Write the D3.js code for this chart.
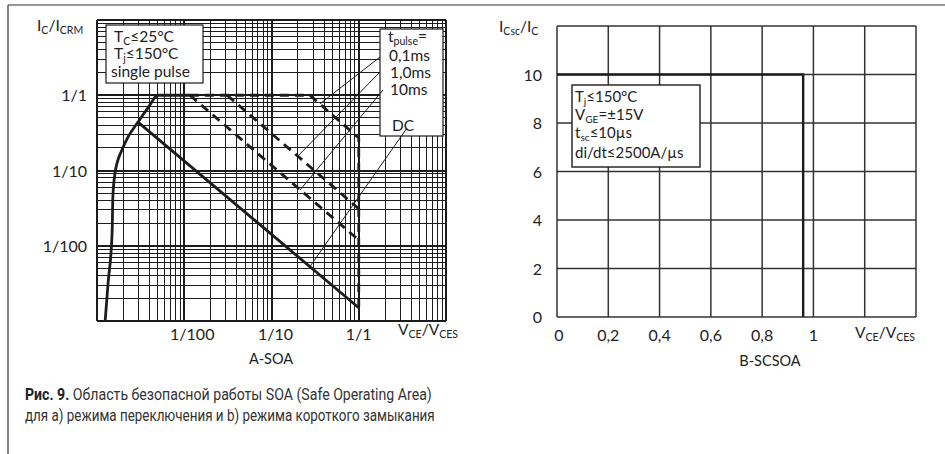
<!DOCTYPE html>
<html lang="ru">
<head>
<meta charset="UTF-8">
<title>SOA / SCSOA</title>
<script src="https://cdn.jsdelivr.net/npm/d3@7"></script>
<style>
  html, body { margin: 0; padding: 0; background: #fff; }
  svg { display: block; }
  .lbl { font-family: Lato, 'Open Sans', sans-serif; fill: #222; }
  .cap { font-family: Roboto, 'Noto Sans', sans-serif; fill: #333; }
  .grid { shape-rendering: crispEdges; }
</style>
</head>
<body>
<svg id="chart" width="945" height="454"></svg>
<script>
// ---- values ----
// A-SOA: log/log, relative units
const soaXTicks = [0.01, 0.1, 1];
const soaXTickLabels = ["1/100", "1/10", "1/1"];
const soaYTicks = [1, 0.1, 0.01];
const soaYTickLabels = ["1/1", "1/10", "1/100"];
const envelope = [[0.00124, 0.001], [0.00134, 0.0032], [0.00149, 0.0148], [0.00152, 0.0445],
  [0.00161, 0.093], [0.0017, 0.126], [0.00193, 0.187], [0.00227, 0.279], [0.00295, 0.44],
  [0.00384, 0.68], [0.005, 1], [0.0116, 1]];
const dcLine = [[0.00295, 0.44], [1, 0.0015]];
const pulse10ms = [[0.0116, 1], [1, 0.0119]];
const pulse1ms = [[0.031, 1], [1, 0.031]];
const pulse01ms = [[0.0116, 1], [0.276, 1], [1, 0.27], [1, 0.0015]];
const pulseLabels = ["0,1ms", "1,0ms", "10ms", "DC"];
const pulseLeaderEnds = [[0.36, 0.77], [0.2, 0.155], [0.212, 0.055], [0.276, 0.0053]];

// B-SCSOA: linear
const scXTicks = [0, 0.2, 0.4, 0.6, 0.8, 1];
const scXTickLabels = ["0", "0,2", "0,4", "0,6", "0,8", "1"];
const scYTicks = [0, 2, 4, 6, 8, 10];
const scsoa = [[0, 10], [0.96, 10], [0.96, 0]];

const svg = d3.select("#chart");
const ink = "#1c1c1c";

// text with subscripts: parts are strings or [subscriptString]
function rich(sel, x, y, parts, size, anchor) {
  const t = sel.append("text").attr("class", "lbl")
    .attr("x", x).attr("y", y).attr("font-size", size)
    .attr("text-anchor", anchor || "start");
  let shift = 0;
  parts.forEach(p => {
    const sub = Array.isArray(p);
    const target = sub ? size * 0.22 : 0;
    t.append("tspan").attr("dy", target - shift)
      .attr("font-size", sub ? size * 0.68 : size)
      .text(sub ? p[0] : p);
    shift = target;
  });
  return t;
}

// page frame
svg.append("line").attr("x1", 8).attr("x2", 945).attr("y1", 5).attr("y2", 5)
  .attr("stroke", "#333").attr("stroke-width", 1.2);
svg.append("line").attr("x1", 8).attr("x2", 8).attr("y1", 5).attr("y2", 454)
  .attr("stroke", "#333").attr("stroke-width", 1.2);

// ================= A-SOA =================
const xA = d3.scaleLog().domain([1e-3, 10]).range([97, 446]);
const yA = d3.scaleLog().domain([1e-3, 10]).range([321, 20]);

const logGrid = [];
for (let e = -3; e < 1; e++) for (let m = 1; m < 10; m++) logGrid.push(m * Math.pow(10, e));
logGrid.push(10);
const isDecade = d => Math.abs(Math.log10(d) - Math.round(Math.log10(d))) < 1e-9;

const gA = svg.append("g");
gA.selectAll("line.vx").data(logGrid).join("line").attr("class", "grid")
  .attr("x1", d => xA(d)).attr("x2", d => xA(d)).attr("y1", 20).attr("y2", 321)
  .attr("stroke", ink).attr("stroke-width", d => isDecade(d) ? 2 : 1);
gA.selectAll("line.hy").data(logGrid).join("line").attr("class", "grid")
  .attr("y1", d => yA(d)).attr("y2", d => yA(d)).attr("x1", 97).attr("x2", 446)
  .attr("stroke", ink).attr("stroke-width", d => isDecade(d) ? 2 : 1);

const lineA = d3.line().x(d => xA(d[0])).y(d => yA(d[1]));

gA.append("path").attr("d", lineA.curve(d3.curveMonotoneX)(envelope))
  .attr("fill", "none").attr("stroke", ink).attr("stroke-width", 2.8);
lineA.curve(d3.curveLinear);
gA.append("path").attr("d", lineA(dcLine))
  .attr("fill", "none").attr("stroke", ink).attr("stroke-width", 2.8);
[pulse01ms, pulse1ms, pulse10ms].forEach(s => {
  gA.append("path").attr("d", lineA(s))
    .attr("fill", "none").attr("stroke", ink).attr("stroke-width", 2.8)
    .attr("stroke-dasharray", "9,6");
});

// info box
gA.append("rect").attr("x", 106).attr("y", 25).attr("width", 97).attr("height", 58)
  .attr("fill", "#fff").attr("stroke", ink).attr("stroke-width", 1.2);
rich(gA, 114, 42, ["T", ["C"], "≤25°C"], 15.5);
rich(gA, 114, 59, ["T", ["j"], "≤150°C"], 15.5);
rich(gA, 111, 77, ["single pulse"], 15.5);

// pulse legend box and leaders
gA.append("rect").attr("x", 380).attr("y", 29).attr("width", 63).attr("height", 107)
  .attr("fill", "#fff").attr("stroke", ink).attr("stroke-width", 1.2);
rich(gA, 388, 42, ["t", ["pulse"], "="], 15.5);
const leaderStarts = [[380, 57], [380, 72], [383, 90], [407, 128]];
const labelPos = [[389, 61], [390, 78], [390, 95], [392, 131]];
pulseLabels.forEach((lab, i) => {
  rich(gA, labelPos[i][0], labelPos[i][1], [lab], 15.5);
  gA.append("line")
    .attr("x1", leaderStarts[i][0]).attr("y1", leaderStarts[i][1])
    .attr("x2", xA(pulseLeaderEnds[i][0])).attr("y2", yA(pulseLeaderEnds[i][1]))
    .attr("stroke", ink).attr("stroke-width", 1);
});

// axes text
rich(gA, 37, 31, ["I", ["C"], "/I", ["CRM"]], 15.5);
soaYTicks.forEach((v, i) => {
  gA.append("text").attr("class", "lbl").attr("x", 87).attr("y", yA(v) + 6)
    .attr("text-anchor", "end").attr("font-size", 16).text(soaYTickLabels[i]);
});
soaXTicks.forEach((v, i) => {
  gA.append("text").attr("class", "lbl").attr("x", xA(v) + 8 - 4 * i).attr("y", 340)
    .attr("text-anchor", "middle").attr("font-size", 16).text(soaXTickLabels[i]);
});
rich(gA, 398, 335, ["V", ["CE"], "/V", ["CES"]], 15.5);
gA.append("text").attr("class", "lbl").attr("x", 271).attr("y", 364)
  .attr("text-anchor", "middle").attr("font-size", 14.5).text("A-SOA");

// ================= B-SCSOA =================
const xB = d3.scaleLinear().domain([0, 1.4]).range([557, 916]);
const yB = d3.scaleLinear().domain([0, 12]).range([317, 26]);
const gB = svg.append("g");

const bxGrid = d3.range(0, 1.41, 0.2);
const byGrid = d3.range(0, 12.1, 2);
gB.selectAll("line.vx").data(bxGrid).join("line")
  .attr("x1", d => xB(d)).attr("x2", d => xB(d)).attr("y1", yB(12)).attr("y2", yB(0))
  .attr("stroke", "#333").attr("stroke-width", 1.5);
gB.selectAll("line.hy").data(byGrid).join("line")
  .attr("y1", d => yB(d)).attr("y2", d => yB(d)).attr("x1", xB(0)).attr("x2", xB(1.4))
  .attr("stroke", "#333").attr("stroke-width", 1.5);

const lineB = d3.line().x(d => xB(d[0])).y(d => yB(d[1]));
gB.append("path").attr("d", lineB(scsoa))
  .attr("fill", "none").attr("stroke", ink).attr("stroke-width", 2.4);

gB.append("rect").attr("x", 572).attr("y", 85).attr("width", 128).attr("height", 82)
  .attr("fill", "#fff").attr("stroke", ink).attr("stroke-width", 1.4);
rich(gB, 575, 102, ["T", ["j"], "≤150°C"], 15);
rich(gB, 575, 120, ["V", ["GE"], "=±15V"], 15);
rich(gB, 575, 138, ["t", ["sc"], "≤10µs"], 15);
rich(gB, 575, 158, ["di/dt≤2500A/µs"], 15);

rich(gB, 499, 32, ["I", ["Csc"], "/I", ["C"]], 15.5);
scYTicks.forEach(v => {
  gB.append("text").attr("class", "lbl").attr("x", 542).attr("y", yB(v) + 6)
    .attr("text-anchor", "end").attr("font-size", 16).text(v);
});
scXTicks.forEach((v, i) => {
  gB.append("text").attr("class", "lbl").attr("x", xB(v) + (i === 0 ? 2 : 0)).attr("y", 341)
    .attr("text-anchor", "middle").attr("font-size", 16).text(scXTickLabels[i]);
});
rich(gB, 855, 338, ["V", ["CE"], "/V", ["CES"]], 15.5);
gB.append("text").attr("class", "lbl").attr("x", 770).attr("y", 366)
  .attr("text-anchor", "middle").attr("font-size", 14.5).text("B-SCSOA");

// ================= caption (condensed by horizontal scaling) =================
function caption(y, width, build) {
  const t = svg.append("text").attr("class", "cap").attr("x", 0).attr("y", 0).attr("font-size", 17);
  build(t);
  const len = t.node().getComputedTextLength();
  const k = len > 0 ? width / len : 1;
  t.attr("transform", `translate(25,${y}) scale(${k},1)`);
}
caption(400, 407, t => {
  t.append("tspan").attr("font-weight", "bold").attr("fill", "#222").text("Рис. 9.");
  t.append("tspan").text(" Область безопасной работы SOA (Safe Operating Area)");
});
caption(421, 410, t => t.text("для а) режима переключения и b) режима короткого замыкания"));
</script>
</body>
</html>
